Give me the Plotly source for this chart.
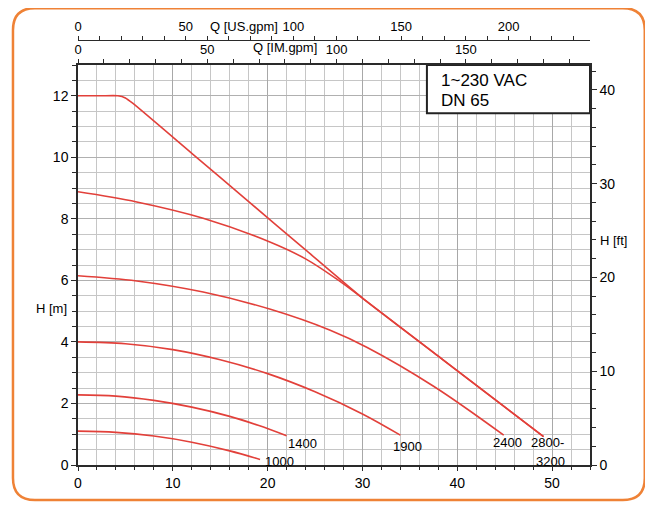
import plotly.graph_objects as go

# pump curves, Q in m3/h, H in m
q_1000 = [0, 4, 8, 12, 16, 19.2]
h_1000 = [1.1, 1.06, 0.94, 0.74, 0.46, 0.18]

q_1400 = [0, 4, 8, 12, 16, 19, 22]
h_1400 = [2.28, 2.24, 2.1, 1.88, 1.58, 1.29, 0.95]

q_1900 = [0, 5, 10, 15, 20, 25, 30, 34]
h_1900 = [4.0, 3.94, 3.75, 3.42, 2.97, 2.38, 1.66, 0.97]

q_2400 = [0, 6.2, 13.2, 20.3, 26.6, 30.5, 37.5, 44.9]
h_2400 = [6.15, 5.98, 5.62, 5.06, 4.38, 3.82, 2.56, 0.97]

q_2800 = [0, 6.2, 13.2, 20.3, 24.0, 27.3, 30.1, 38.5, 49.1]
h_2800 = [8.88, 8.55, 8.02, 7.24, 6.7, 6.04, 5.4, 3.42, 0.92]

q_3200 = [0, 2.5, 4.2, 5.0, 5.8, 12, 18, 24, 30.1, 38.5, 49.1]
h_3200 = [12.0, 12.0, 12.0, 11.93, 11.75, 10.13, 8.56, 6.99, 5.4, 3.42, 0.92]

curves = [(q_1000, h_1000), (q_1400, h_1400), (q_1900, h_1900),
          (q_2400, h_2400), (q_2800, h_2800), (q_3200, h_3200)]
smooth = [1.0, 1.0, 1.0, 1.0, 1.0, 0.5]

# curve labels and where they sit
speed_labels = ["1000", "1400", "1900", "2400", "2800-", "3200"]
label_q = [21.2, 23.7, 34.8, 45.3, 47.6, 49.8]
label_h = [0.12, 0.7, 0.6, 0.72, 0.72, 0.12]
label_anchor = ["center", "center", "center", "center", "left", "center"]

us_ticks = [0, 50, 100, 150, 200]
im_ticks = [0, 50, 100, 150]
info_lines = ["1~230 VAC", "DN 65"]

M3H_PER_USGPM = 0.22712
M3H_PER_IMGPM = 0.27277
FT_PER_M = 3.28084

Q_MAX = 54
H_MAX = 13

RED = "#e2403a"
AX = "#2a2a2a"
FONT = "Liberation Sans, Arial, sans-serif"
tick_font = dict(family=FONT, size=14, color="#000")
top_font = dict(family=FONT, size=13, color="#000")

fig = go.Figure()

for (q, h), s in zip(curves, smooth):
    fig.add_trace(go.Scatter(x=q, y=h, mode="lines",
                             line=dict(color=RED, width=1.6, shape="spline", smoothing=s),
                             hoverinfo="skip", showlegend=False))

# invisible traces so the extra axes get drawn
fig.add_trace(go.Scatter(x=[0], y=[0], xaxis="x2", yaxis="y", mode="markers",
                         marker=dict(opacity=0), showlegend=False, hoverinfo="skip"))
fig.add_trace(go.Scatter(x=[0], y=[0], xaxis="x3", yaxis="y", mode="markers",
                         marker=dict(opacity=0), showlegend=False, hoverinfo="skip"))
fig.add_trace(go.Scatter(x=[0], y=[0], xaxis="x", yaxis="y2", mode="markers",
                         marker=dict(opacity=0), showlegend=False, hoverinfo="skip"))

for txt, x, y, anc in zip(speed_labels, label_q, label_h, label_anchor):
    fig.add_annotation(x=x, y=y, text=txt, showarrow=False, xanchor=anc, yanchor="middle",
                       font=top_font)

# info box top right
fig.add_shape(type="rect", xref="x", yref="y", x0=36.8, x1=Q_MAX, y0=11.43, y1=H_MAX,
              line=dict(color="#222", width=2), fillcolor="white", layer="above")
for i, txt in enumerate(info_lines):
    fig.add_annotation(x=38.1, y=12.5 - i * 0.66, text=txt, showarrow=False,
                       xanchor="left", yanchor="middle",
                       font=dict(family=FONT, size=17, color="#000"))

# axis names
fig.add_annotation(xref="paper", x=-0.018, y=5.1, text="H [m]", showarrow=False,
                   xanchor="right", yanchor="middle", font=top_font)
fig.add_annotation(xref="paper", x=1.015, y=7.3, text="H [ft]", showarrow=False,
                   xanchor="left", yanchor="middle", font=top_font)
fig.add_annotation(xref="x3", yref="paper", x=77, y=1.032, text="Q [US.gpm]", showarrow=False,
                   xanchor="center", yanchor="middle", font=top_font)
fig.add_annotation(xref="x2", yref="paper", x=80, y=0.982, text="Q [IM.gpm]", showarrow=False,
                   xanchor="center", yanchor="middle", font=top_font)

# rounded orange frame (paper coords)
L, R, B, T = -0.127, 1.107, -0.0824, 1.075
rx, ry = 22 / 512, 22 / 425
frame = (f"M {L+rx},{B} L {R-rx},{B} Q {R},{B} {R},{B+ry} L {R},{T-ry} Q {R},{T} {R-rx},{T} "
         f"L {L+rx},{T} Q {L},{T} {L},{T-ry} L {L},{B+ry} Q {L},{B} {L+rx},{B} Z")
fig.add_shape(type="path", xref="paper", yref="paper", path=frame,
              line=dict(color="#ef8236", width=2.5), layer="below")

# page body has an 8px margin, so the figure is 8px smaller and margins shifted
fig.update_layout(
    width=645, height=503,
    margin=dict(l=70, r=63, t=32, b=46),
    paper_bgcolor="white", plot_bgcolor="white",
    xaxis=dict(range=[0, Q_MAX], dtick=10, tick0=0, showgrid=True, gridcolor="#a8a8a8",
               minor=dict(dtick=2, showgrid=True, gridcolor="#c6c6c6", ticks="outside",
                          ticklen=3, tickcolor=AX),
               ticks="outside", ticklen=4, tickcolor=AX, showline=True, linecolor=AX,
               linewidth=1.5, zeroline=False, tickfont=tick_font),
    yaxis=dict(range=[0, H_MAX], domain=[0, 400 / 425], dtick=2, tick0=0, showgrid=True,
               gridcolor="#b0b0b0",
               minor=dict(dtick=0.5, showgrid=True, gridcolor="#c6c6c6", ticks="outside",
                          ticklen=4, tickcolor=AX),
               ticks="outside", ticklen=5, tickcolor=AX, showline=True, linecolor=AX,
               linewidth=1.5, zeroline=False, tickfont=tick_font),
    yaxis2=dict(range=[0, H_MAX * FT_PER_M], overlaying="y", side="right", anchor="x",
                dtick=10, tick0=0, showgrid=False,
                minor=dict(dtick=2, ticks="outside", ticklen=4, tickcolor=AX),
                ticks="outside", ticklen=5, tickcolor=AX, showline=True, linecolor=AX,
                linewidth=1.5, zeroline=False, tickfont=tick_font),
    xaxis2=dict(range=[0, Q_MAX / M3H_PER_IMGPM], overlaying="x", side="top", anchor="y",
                tickvals=im_ticks, showgrid=False,
                minor=dict(dtick=10, ticks="outside", ticklen=4, tickcolor=AX),
                ticks="outside", ticklen=4, tickcolor=AX, showline=True, linecolor=AX,
                linewidth=1.5, zeroline=False, tickfont=top_font),
    xaxis3=dict(range=[0, Q_MAX / M3H_PER_USGPM], overlaying="x", side="top", anchor="free",
                position=1, tickvals=us_ticks, showgrid=False,
                minor=dict(dtick=10, ticks="outside", ticklen=4, tickcolor=AX),
                ticks="outside", ticklen=4, tickcolor=AX, showline=True, linecolor=AX,
                linewidth=1.2, zeroline=False, tickfont=top_font),
)

fig.write_html("out.html")
